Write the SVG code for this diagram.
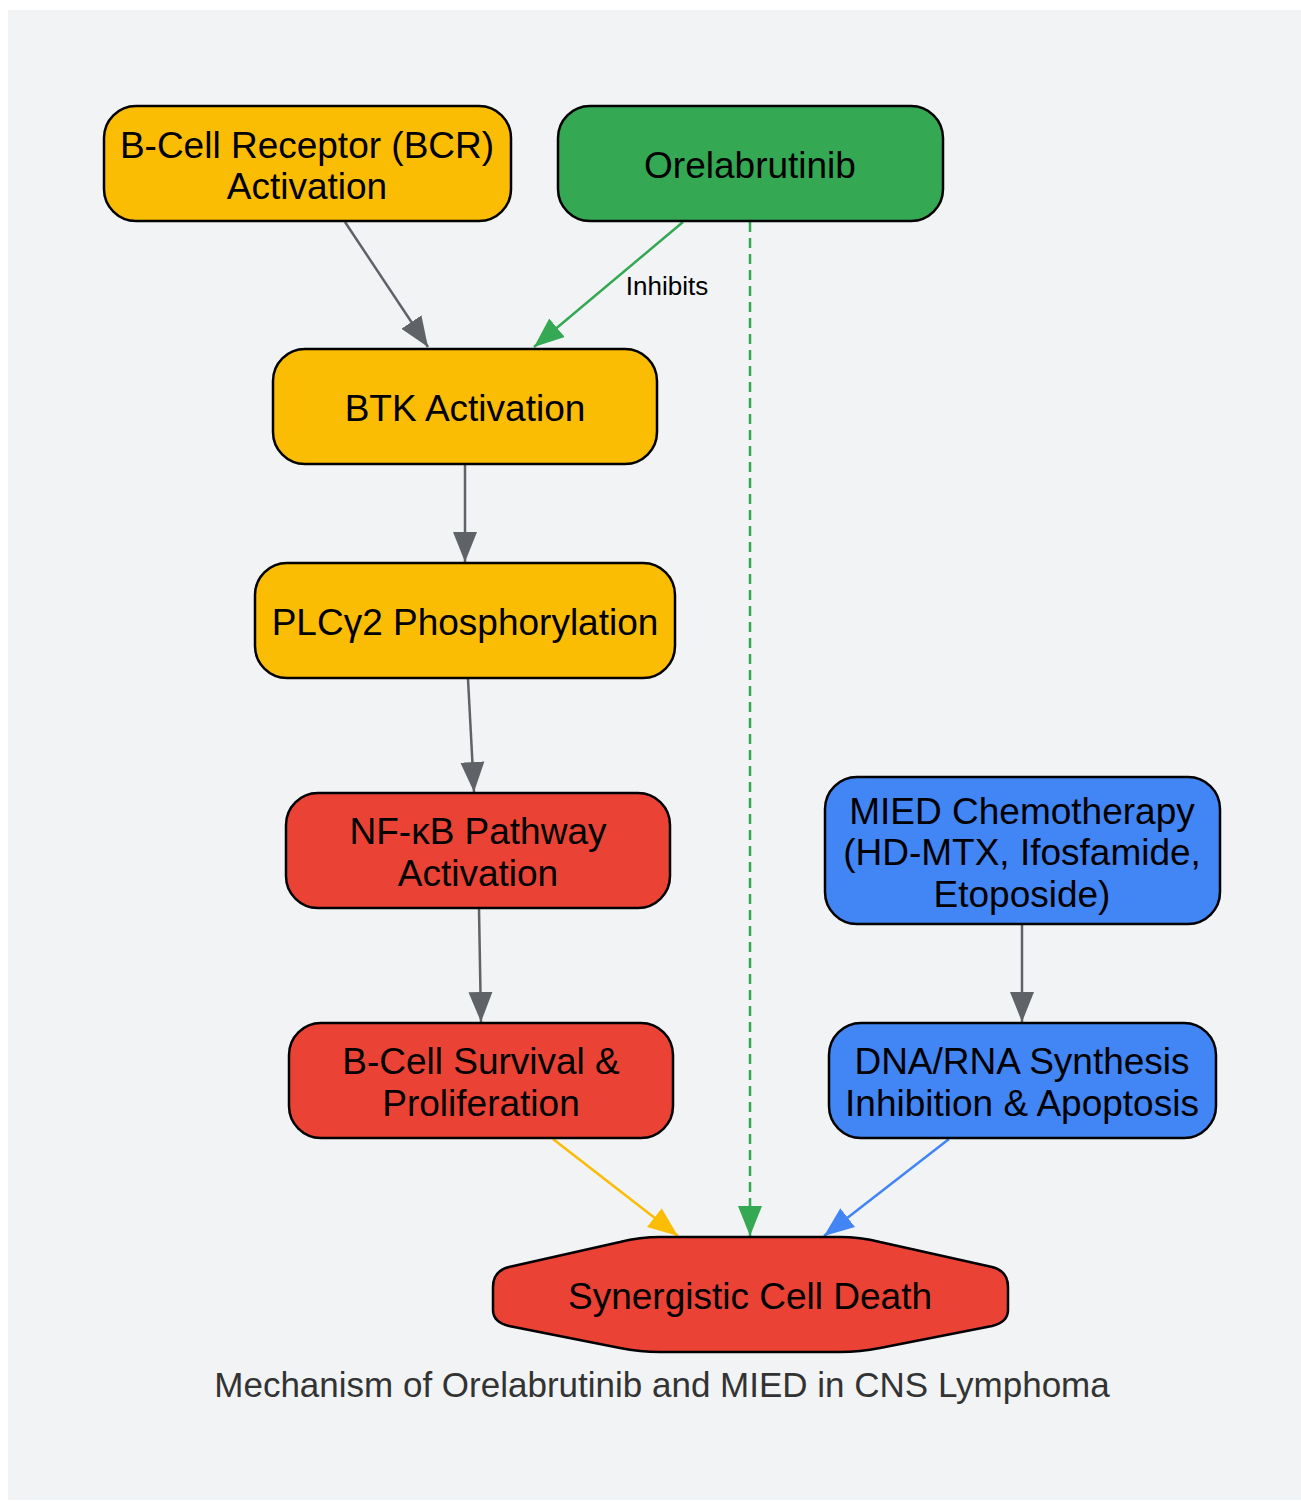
<svg xmlns="http://www.w3.org/2000/svg" width="1301" height="1501" viewBox="0 0 1301 1501">
<defs>
<style>
.n{stroke:#000;stroke-width:2.5}
.t{font-family:"Liberation Sans",Arial,sans-serif;font-size:37px;fill:#000;text-anchor:middle}
.e{fill:none;stroke-width:2.5}
</style>
<marker id="ag" markerUnits="userSpaceOnUse" markerWidth="32" markerHeight="26" refX="30" refY="12" orient="auto" viewBox="0 0 32 24"><path d="M0,0 L30,12 L0,24 Z" fill="#5f6368"/></marker>
<marker id="agr" markerUnits="userSpaceOnUse" markerWidth="32" markerHeight="26" refX="30" refY="12" orient="auto" viewBox="0 0 32 24"><path d="M0,0 L30,12 L0,24 Z" fill="#34a853"/></marker>
<marker id="ay" markerUnits="userSpaceOnUse" markerWidth="32" markerHeight="26" refX="30" refY="12" orient="auto" viewBox="0 0 32 24"><path d="M0,0 L30,12 L0,24 Z" fill="#fbbc04"/></marker>
<marker id="ab" markerUnits="userSpaceOnUse" markerWidth="32" markerHeight="26" refX="30" refY="12" orient="auto" viewBox="0 0 32 24"><path d="M0,0 L30,12 L0,24 Z" fill="#4285f4"/></marker>
</defs>
<rect x="8" y="10" width="1293" height="1490" fill="#f1f3f5"/>
<g id="edges">
<path class="e" d="M345,222 L428,347" stroke="#5f6368" marker-end="url(#ag)"/>
<path class="e" d="M683,222 L534,347" stroke="#34a853" marker-end="url(#agr)"/>
<text x="667" y="295" style="font-family:'Liberation Sans',Arial,sans-serif;font-size:26px;fill:#000;text-anchor:middle">Inhibits</text>
<path class="e" d="M750,222 L750,1236" stroke="#34a853" stroke-dasharray="10,6" marker-end="url(#agr)"/>
<path class="e" d="M465,464 L465,562" stroke="#5f6368" marker-end="url(#ag)"/>
<path class="e" d="M468,679 L474,792" stroke="#5f6368" marker-end="url(#ag)"/>
<path class="e" d="M479,909 L481,1022" stroke="#5f6368" marker-end="url(#ag)"/>
<path class="e" d="M1022,925 L1022,1022" stroke="#5f6368" marker-end="url(#ag)"/>
<path class="e" d="M553,1139 L678,1236" stroke="#fbbc04" marker-end="url(#ay)"/>
<path class="e" d="M949,1139 L824,1236" stroke="#4285f4" marker-end="url(#ab)"/>
</g>
<g id="bcr"><rect class="n" x="104" y="106" width="407" height="115" rx="32" fill="#fbbc04"/><text class="t" x="307" y="158">B-Cell Receptor (BCR)</text><text class="t" x="307" y="199">Activation</text></g>
<g id="orelabrutinib"><rect class="n" x="558" y="106" width="385" height="115" rx="32" fill="#34a853"/><text class="t" x="750" y="178">Orelabrutinib</text></g>
<g id="btk"><rect class="n" x="273" y="349" width="384" height="115" rx="32" fill="#fbbc04"/><text class="t" x="465" y="421">BTK Activation</text></g>
<g id="plc"><rect class="n" x="255" y="563" width="420" height="115" rx="32" fill="#fbbc04"/><text class="t" x="465" y="635">PLCγ2 Phosphorylation</text></g>
<g id="nfkb"><rect class="n" x="286" y="793" width="384" height="115" rx="32" fill="#ea4335"/><text class="t" x="478" y="844">NF-κB Pathway</text><text class="t" x="478" y="886">Activation</text></g>
<g id="survival"><rect class="n" x="289" y="1023" width="384" height="115" rx="32" fill="#ea4335"/><text class="t" x="481" y="1074">B-Cell Survival &amp;</text><text class="t" x="481" y="1116">Proliferation</text></g>
<g id="mied"><rect class="n" x="825" y="777" width="395" height="147" rx="32" fill="#4285f4"/><text class="t" x="1022" y="824">MIED Chemotherapy</text><text class="t" x="1022" y="865">(HD-MTX, Ifosfamide,</text><text class="t" x="1022" y="907">Etoposide)</text></g>
<g id="dna"><rect class="n" x="829" y="1023" width="387" height="115" rx="32" fill="#4285f4"/><text class="t" x="1022" y="1074">DNA/RNA Synthesis</text><text class="t" x="1022" y="1116">Inhibition &amp; Apoptosis</text></g>
<g id="death"><path class="n" fill="#ea4335" d="M660,1237 L840,1237 Q860,1237 880,1242 L992,1267 Q1008,1271 1008,1287 L1008,1310 Q1008,1322 992,1326 L880,1348 Q860,1352 840,1352 L660,1352 Q640,1352 620,1348 L509,1326 Q493,1322 493,1310 L493,1287 Q493,1271 509,1267 L620,1242 Q640,1237 660,1237 Z"/><text class="t" x="750" y="1309">Synergistic Cell Death</text></g>
<text x="662" y="1397" style="font-family:'Liberation Sans',Arial,sans-serif;font-size:35px;fill:#333;text-anchor:middle">Mechanism of Orelabrutinib and MIED in CNS Lymphoma</text>
</svg>
